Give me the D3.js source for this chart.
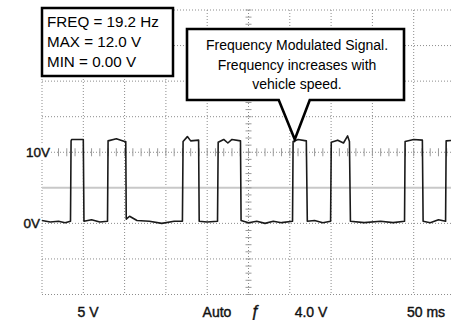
<!DOCTYPE html>
<html>
<head>
<meta charset="utf-8">
<script src="https://cdn.jsdelivr.net/npm/d3@7"></script>
<style>
  body { margin: 0; background: #fff; }
  svg { display: block; font-family: "Liberation Sans", Arial, sans-serif; }
</style>
</head>
<body>
<svg id="chart" width="451" height="320"></svg>
<script>
// scope settings: 50 ms/div over 10 divs, 5 V/div over 8 divs
const timeTicks = [0, 50, 100, 150, 200, 250, 300, 350, 400, 450, 500];
const voltTicks = [-10, -5, 0, 5, 10, 15, 20, 25, 30];
const levelLabels = [{v: 10, text: "10V"}, {v: 0, text: "0V"}];
const readouts = ["FREQ = 19.2 Hz", "MAX = 12.0 V", "MIN = 0.00 V"];
const calloutLines = ["Frequency Modulated Signal.", "Frequency increases with", "vehicle speed."];
const calloutTarget = [306, 11.8];
const footer = [
    {text: "5 V", x: 88},
    {text: "Auto", x: 217},
    {text: "\u0192", x: 255, italic: true},
    {text: "4.0 V", x: 311},
    {text: "50 ms", x: 426}
];

// trace: [time ms, volts]
const trace = [
    [0, 0.4], [10, 0.2], [20, 0.3], [28, 0.1], [34.5, 0.3], [35.2, 11.6], [36, 11.8], [50, 11.8],
    [50.8, 0.3], [60, 0.5], [70, 0.2], [79.3, 0.3], [80, 11.6], [90, 11.9], [100, 11.5], [101.4, 11.5],
    [102, 0.6], [106, 1.0], [115, 0.4], [130, 0.3], [145, 0.0], [160, 0.3], [170, 0.3], [170.8, 11.5],
    [176, 12.2], [180, 11.6], [189.6, 11.7], [190.3, 0.3], [200, 0.2], [212.5, 0.3], [213.3, 11.4],
    [220, 11.8], [225, 11.3], [230, 11.8], [240.3, 11.6], [241, 0.4], [250, 0.1], [260, 0.3], [270, 0.0],
    [280, 0.3], [290, 0.1], [303.3, 0.3], [304, 11.5], [310, 11.8], [320, 11.6], [321.2, 0.3], [330, 0.4],
    [340, 0.1], [349.4, 0.3], [350.2, 11.4], [358, 11.7], [365, 11.3], [370, 12.3], [372.2, 11.5],
    [373.4, 0.3], [390, 0.1], [410, 0.3], [425, 0.1], [438.9, 0.3], [439.6, 11.5], [450, 11.8],
    [460.5, 11.7], [461.4, 0.3], [470, 0.1], [480, 0.5], [488.6, 0.3], [489.3, 11.6], [500, 11.7]
];

const svg = d3.select("#chart");
const x = d3.scaleLinear().domain([0, 500]).range([42, 455]);
const y = d3.scaleLinear().domain([-10, 30]).range([294.5, 10]);

const grid = svg.append("g").attr("class", "grid");

grid.selectAll("line.v")
    .data(timeTicks)
    .enter().append("line")
    .attr("x1", d => x(d)).attr("x2", d => x(d))
    .attr("y1", y(30)).attr("y2", y(-10))
    .attr("stroke", "#8c8c8c")
    .attr("stroke-dasharray", "1,2");

grid.selectAll("line.h")
    .data(voltTicks)
    .enter().append("line")
    .attr("x1", x(0)).attr("x2", x(500))
    .attr("y1", d => y(d)).attr("y2", d => y(d))
    .attr("stroke", d => d === 5 ? "#c8c8c8" : "#8c8c8c")
    .attr("stroke-width", d => d === 5 ? 2 : 1)
    .attr("stroke-dasharray", d => d === 5 ? null : "1,2");

// minor ticks on the centre lines
grid.selectAll("line.tx")
    .data(d3.range(0, 501, 10))
    .enter().append("line")
    .attr("x1", d => x(d)).attr("x2", d => x(d))
    .attr("y1", y(10) - 4).attr("y2", y(10) + 4)
    .attr("stroke", "#9a9a9a");

grid.selectAll("line.ty")
    .data(d3.range(-10, 30.1, 1))
    .enter().append("line")
    .attr("x1", x(250) - 3).attr("x2", x(250) + 3)
    .attr("y1", d => y(d)).attr("y2", d => y(d))
    .attr("stroke", "#9a9a9a");

// signal
const line = d3.line().x(d => x(d[0])).y(d => y(d[1]));
svg.append("path")
    .datum(trace)
    .attr("d", line)
    .attr("fill", "none")
    .attr("stroke", "#1a1a1a")
    .attr("stroke-width", 1.6)
    .attr("stroke-linejoin", "round");

// level markers
const lvl = svg.append("g");
lvl.selectAll("rect")
    .data(levelLabels)
    .enter().append("rect")
    .attr("x", d => d.v === 10 ? 21 : 19)
    .attr("y", d => y(d.v) - 8)
    .attr("width", d => d.v === 10 ? 30 : 22)
    .attr("height", 15)
    .attr("fill", "#fff");
lvl.selectAll("text")
    .data(levelLabels)
    .enter().append("text")
    .attr("x", d => d.v === 10 ? 50 : 40)
    .attr("y", d => y(d.v) + 5)
    .attr("text-anchor", "end")
    .attr("font-size", 13.5)
    .attr("fill", "#111")
    .attr("stroke", "#111")
    .attr("stroke-width", 0.4)
    .text(d => d.text);

// readout box
const box = svg.append("g");
box.append("rect")
    .attr("x", 42).attr("y", 8)
    .attr("width", 131).attr("height", 68)
    .attr("fill", "#fff")
    .attr("stroke", "#000")
    .attr("stroke-width", 2.5);
box.selectAll("text")
    .data(readouts)
    .enter().append("text")
    .attr("x", 47)
    .attr("y", (d, i) => 26.5 + i * 20)
    .attr("font-size", 15.2)
    .attr("fill", "#000")
    .text(d => d);

// callout
const tipX = x(calloutTarget[0]), tipY = y(calloutTarget[1]);
const callout = svg.append("g");
callout.append("path")
    .attr("d", `M187,29 H404 V100 H${tipX + 15} L${tipX},${tipY} L${tipX - 16},100 H187 Z`)
    .attr("fill", "#fff")
    .attr("stroke", "#000")
    .attr("stroke-width", 2.6)
    .attr("stroke-linejoin", "miter");
callout.selectAll("text")
    .data(calloutLines)
    .enter().append("text")
    .attr("x", 297)
    .attr("y", (d, i) => 50 + i * 19.5)
    .attr("text-anchor", "middle")
    .attr("font-size", 14)
    .attr("fill", "#000")
    .text(d => d);

// footer settings
svg.append("g").selectAll("text")
    .data(footer)
    .enter().append("text")
    .attr("x", d => d.x)
    .attr("y", 317)
    .attr("text-anchor", "middle")
    .attr("font-size", d => d.italic ? 16 : 14)
    .attr("font-style", d => d.italic ? "italic" : null)
    .attr("fill", "#111")
    .attr("stroke", "#111")
    .attr("stroke-width", 0.4)
    .text(d => d.text);
</script>
</body>
</html>
